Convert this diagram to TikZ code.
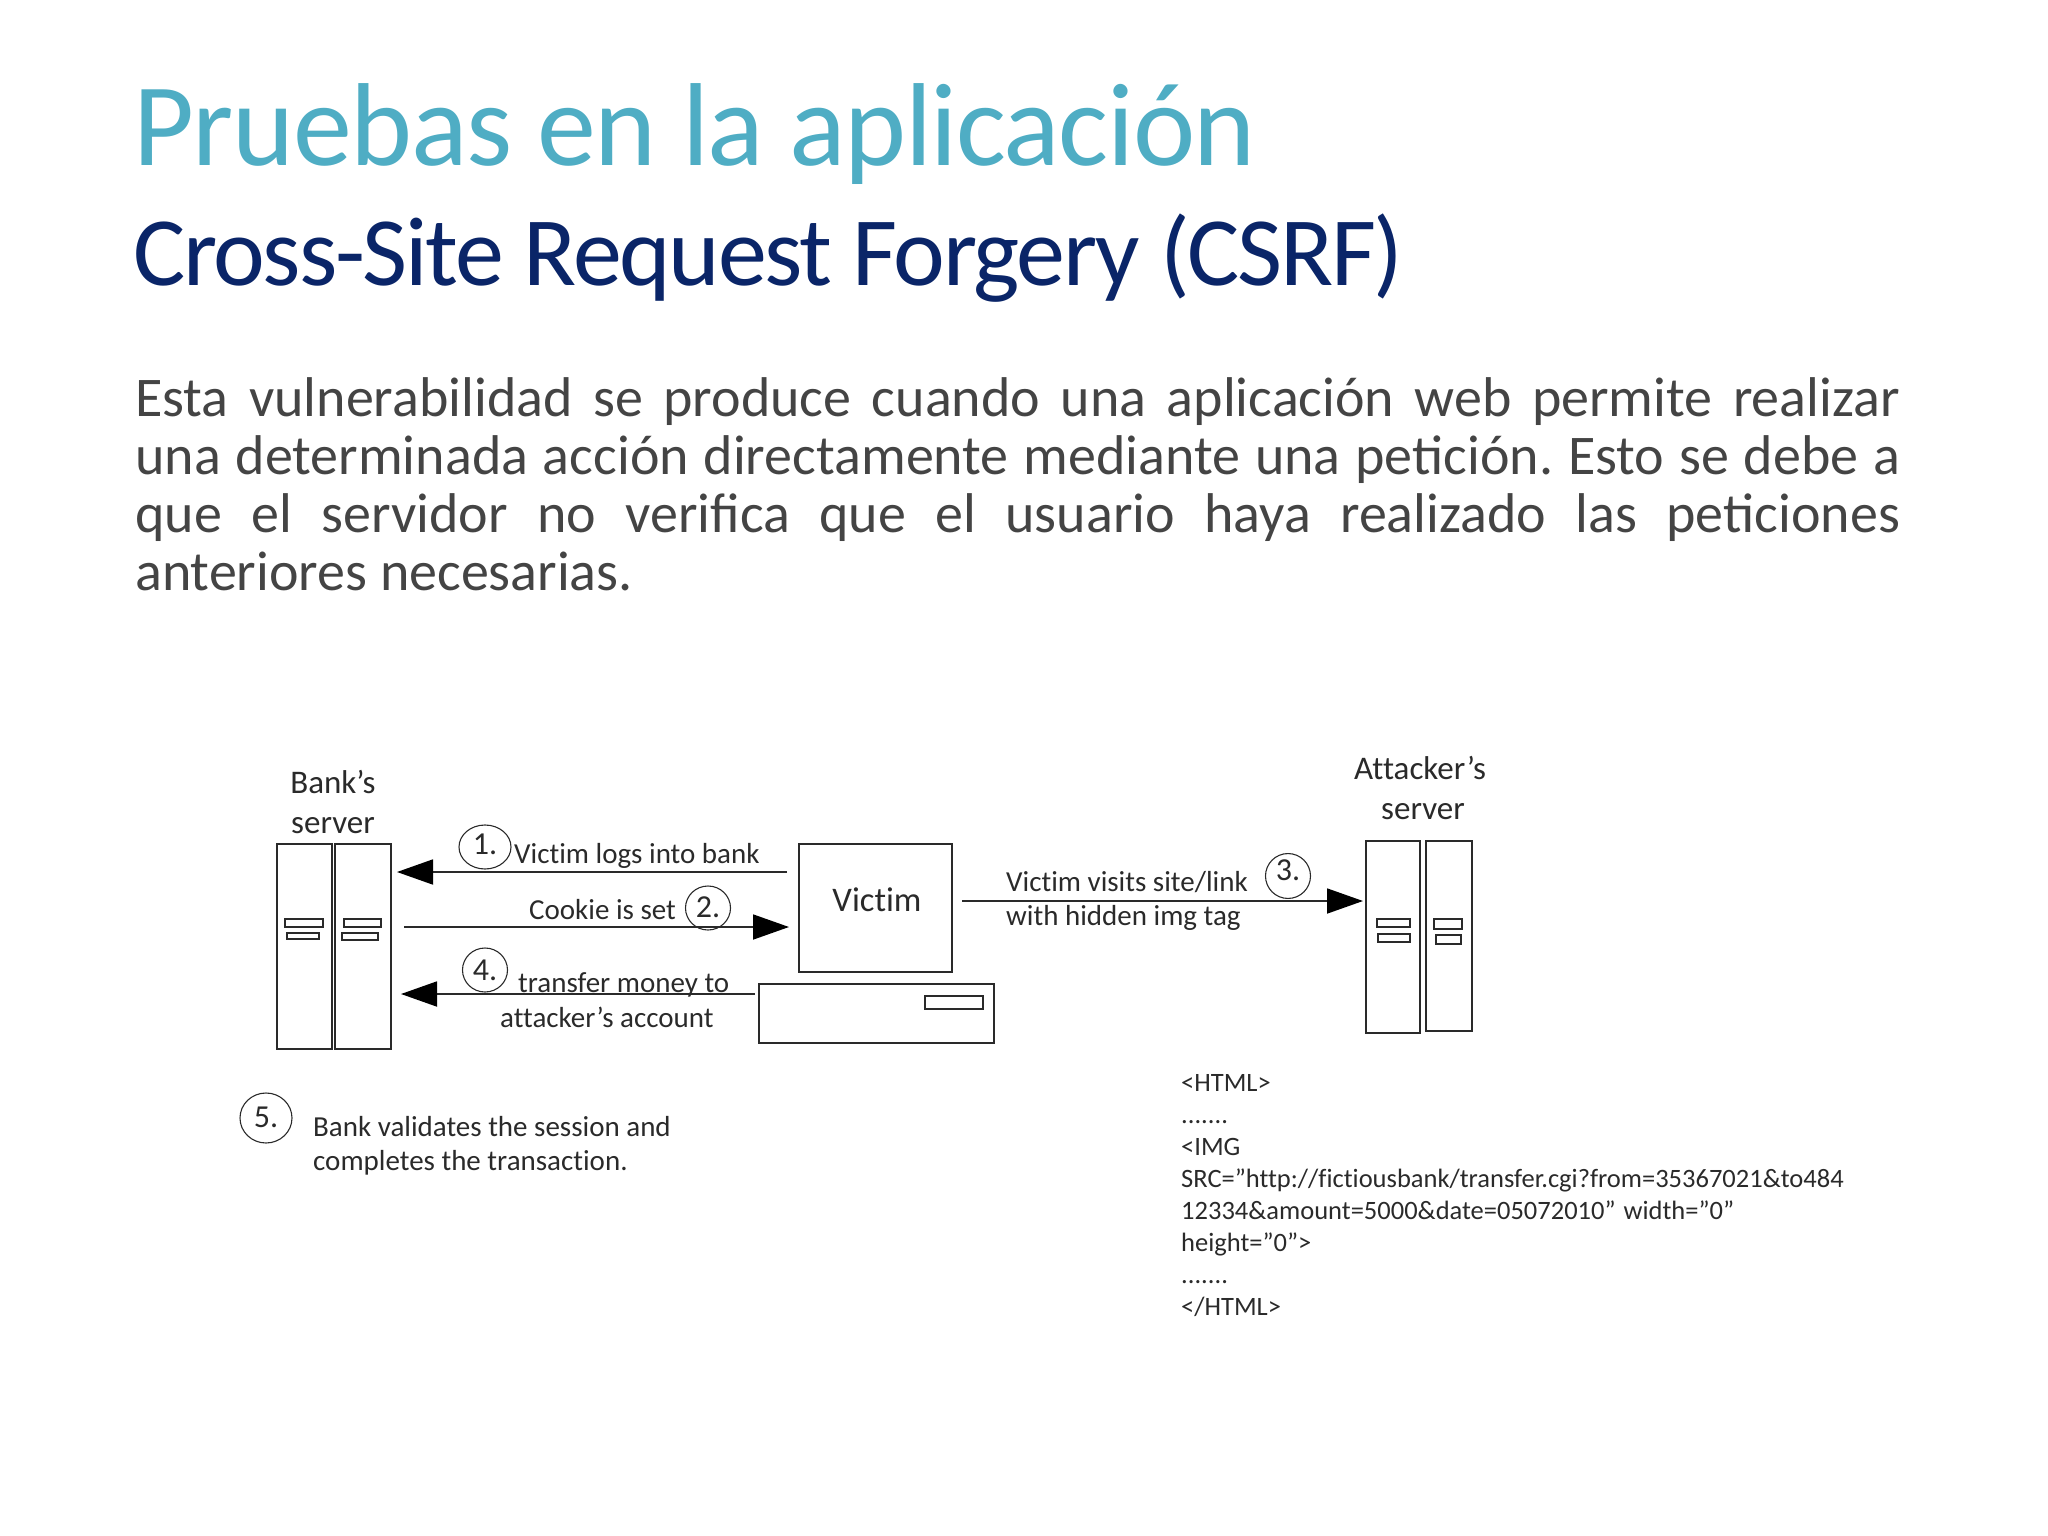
\documentclass[tikz,border=0pt]{standalone}
\usepackage{fontspec}
\setmainfont{Carlito}
\newfontfamily\headfont[LetterSpace=-1.2]{Carlito}
\newfontfamily\subheadfont[LetterSpace=-2.3]{Carlito}
\newfontfamily\figfont[Ligatures=CommonOff]{Carlito}
\usetikzlibrary{arrows.meta,shapes.geometric}
\definecolor{titleteal}{HTML}{4FADC4}
\definecolor{titlenavy}{HTML}{0A2568}
\definecolor{bodygrey}{HTML}{444444}
\definecolor{inkgrey}{HTML}{2A2A2A}
\tikzset{
box/.style={rectangle, draw=inkgrey, line width=1.5pt, inner sep=0pt, outer sep=0pt},
slot/.style={box, line width=1.2pt},
stepmark/.style={ellipse, draw=inkgrey, line width=1.1pt, inner sep=0pt, minimum width=50pt, minimum height=44pt, text=inkgrey, font=\figfont\fontsize{32}{36}\selectfont},
msg/.style={->, draw=inkgrey, line width=1.8pt},
lbl/.style={inner sep=0pt, anchor=base west, text=inkgrey, font=\figfont\fontsize{29}{32}\selectfont},
hostlbl/.style={inner sep=0pt, align=center, text=inkgrey, font=\figfont\fontsize{33}{40}\selectfont}
}
\begin{document}
\begin{tikzpicture}[x=1pt,y=-1pt,>={Triangle[length=36pt,width=25pt,color=black]}]
\useasboundingbox (0,0) rectangle (2048,1536);

\node[inner sep=0pt, anchor=base west, text=titleteal, font=\headfont\fontsize{118}{120}\selectfont] (title) at (133,165) {Pruebas en la aplicación};
\node[inner sep=0pt, anchor=base west, text=titlenavy, font=\subheadfont\fontsize{98}{100}\selectfont] (subtitle) at (133,285) {Cross-Site Request Forgery (CSRF)};
\node[inner sep=0pt, anchor=north west, text=bodygrey, text width=1765pt, align=justify, font=\fontsize{56}{58}\selectfont\frenchspacing] (intro) at (135,377) {Esta vulnerabilidad se produce cuando una aplicación web permite realizar\linebreak una determinada acción directamente mediante una petición. Esto se debe a\linebreak que el servidor no verifica que el usuario haya realizado las peticiones\linebreak anteriores necesarias.};

\node[box, minimum width=55pt, minimum height=205pt] (banka) at (304.5,946.5) {};
\node[box, minimum width=56pt, minimum height=205pt] (bankb) at (363,946.5) {};
\node[box, minimum width=153pt, minimum height=128pt, font=\figfont\fontsize{34.5}{40}\selectfont, text=inkgrey] (victim) at (875.5,908) {\hspace*{3pt}\raisebox{17pt}{Victim}};
\node[box, minimum width=235pt, minimum height=59pt] (pc) at (876.5,1013.5) {};
\node[slot, minimum width=58pt, minimum height=13pt] (pcbay) at (954,1002.5) {};
\node[box, minimum width=54pt, minimum height=192pt] (attacka) at (1393,937) {};
\node[box, minimum width=46pt, minimum height=190pt] (attackb) at (1449,936) {};

\foreach \n/\x/\y/\w/\h in {a/304/923/38/8, b/303/936/32/6, c/362.5/923/37/8, d/360/936.5/36/7, e/1393.5/923/33/8, f/1394/938/32/8, g/1448/924/28/10, h/1448.5/939.5/25/9}
  \node[slot, minimum width=\w pt, minimum height=\h pt] (slot\n) at (\x,\y) {};

\node[hostlbl] (bankname) at (333,802) {Bank’s\\server};
\node[hostlbl] (attackname) at (1420,788) {Attacker’s\\\hspace*{6pt}server};

\coordinate (lane1) at (0,872);
\coordinate (lane2) at (0,927);
\coordinate (lane3) at (0,901);
\coordinate (lane4) at (0,994);

\draw[msg, shorten <=12pt, shorten >=6pt] (victim.west |- lane1)--(bankb.east |- lane1);
\draw[msg, shorten <=13pt, shorten >=10pt] (bankb.east |- lane2)--(victim.west |- lane2);
\draw[msg, shorten <=10pt, shorten >=3pt] (victim.east |- lane3)--(attacka.west |- lane3);
\draw[msg, shorten <=4pt, shorten >=10pt] (pc.west |- lane4)--(bankb.east |- lane4);

\node[stepmark, minimum width=52pt] (step1) at (485,847) {\raisebox{5pt}{1.}};
\node[stepmark, minimum width=45pt] (step2) at (708,908) {\raisebox{2pt}{2.}};
\node[stepmark, minimum width=45pt] (step3) at (1288,876) {\raisebox{11pt}{3.}};
\node[stepmark, minimum width=45pt] (step4) at (485,970) {4.};
\node[stepmark, minimum width=52pt, minimum height=50pt] (step5) at (266,1118) {\raisebox{2pt}{5.}};

\node[lbl] (logs) at (514,863) {Victim logs into bank};
\node[lbl] (cookie) at (529,919) {Cookie is set};
\node[lbl] (transfera) at (518,992) {transfer money to};
\node[lbl] (transferb) at (500,1027) {attacker’s account};
\node[lbl] (visita) at (1006,891) {Victim visits site/link};
\node[lbl] (visitb) at (1006,925) {with hidden img tag};
\node[lbl] (validatea) at (313,1136) {Bank validates the session and};
\node[lbl] (validateb) at (313,1170) {completes the transaction.};

\node[inner sep=0pt, anchor=north west, align=left, text=inkgrey, font=\figfont\fontsize{26.5}{32}\selectfont] (markup) at (1181,1074) {<HTML>\\.......\\<IMG\\SRC=”http://fictiousbank/transfer.cgi?from=35367021\&to484\\12334\&amount=5000\&date=05072010”\hspace*{8pt}width=”0”\\height=”0”>\\.......\\</HTML>};
\end{tikzpicture}
\end{document}
